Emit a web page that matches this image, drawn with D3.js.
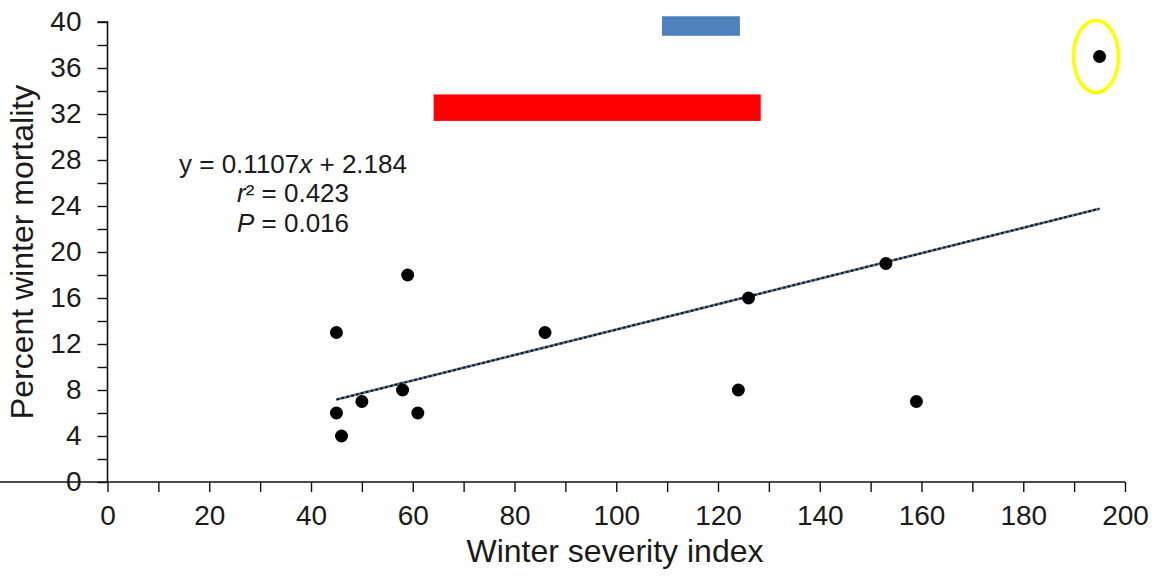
<!DOCTYPE html>
<html>
<head>
<meta charset="utf-8">
<script src="https://cdn.jsdelivr.net/npm/d3@7"></script>
<style>
  html, body { margin: 0; padding: 0; background: #fff; }
  svg { display: block; }
  text { font-family: "Liberation Sans", Arial, sans-serif; fill: #1a1a1a; }
</style>
</head>
<body>
<svg id="chart" width="1155" height="580"></svg>
<script>
// ---- data ----
const severity  = [45, 45, 46, 50, 58, 59, 61, 86, 124, 126, 153, 159, 195];
const mortality = [13, 6, 4, 7, 8, 18, 6, 13, 8, 16, 19, 7, 37];
const xTicks = [0, 20, 40, 60, 80, 100, 120, 140, 160, 180, 200];
const yTicks = [0, 4, 8, 12, 16, 20, 24, 28, 32, 36, 40];
const fitSlope = 0.1107;
const fitIntercept = 2.184;
const fitRange = [45, 195];
const blueBarX = [109, 124.3];
const blueBarY = [38.8, 40.5];
const redBarX = [64.1, 128.4];
const redBarY = [31.4, 33.7];
const highlightCenter = [194.3, 37];

// ---- layout ----
const svg = d3.select("#chart");
const x = d3.scaleLinear().domain([0, 200]).range([107.5, 1125]);
const y = d3.scaleLinear().domain([0, 40]).range([482, 22]);

// axes
const xAxis = d3.axisBottom(x)
  .tickValues(d3.range(0, 201, 10))
  .tickSize(10).tickPadding(13)
  .tickFormat(d => xTicks.includes(d) ? d : "");
const yAxis = d3.axisLeft(y)
  .tickValues(d3.range(0, 41, 2))
  .tickSize(10).tickPadding(16)
  .tickFormat(d => yTicks.includes(d) ? d : "");

const gx = svg.append("g").attr("transform", `translate(0,${y(0)})`).call(xAxis);
const gy = svg.append("g").attr("transform", `translate(${x(0)},0)`).call(yAxis);
[gx, gy].forEach(g => {
  g.select(".domain").attr("stroke", "#111").attr("stroke-width", 1.6);
  g.selectAll(".tick line").attr("stroke", "#111").attr("stroke-width", 1.4);
  g.selectAll(".tick text").style("font-size", "28px").attr("fill", "#1a1a1a")
    .style("font-family", "'Liberation Sans', Arial, sans-serif");
});
gy.select(".domain").attr("d", `M-10,${y(40)}H0V${y(0)}`);
gx.select(".domain").attr("d", `M0,0H${x(200)}`);

// axis titles
svg.append("text")
  .attr("x", 615).attr("y", 562)
  .attr("text-anchor", "middle")
  .style("font-size", "32px")
  .text("Winter severity index");
svg.append("text")
  .attr("transform", `translate(33,252) rotate(-90)`)
  .attr("text-anchor", "middle")
  .style("font-size", "32px")
  .text("Percent winter mortality");

// range bars
svg.append("rect")
  .attr("x", x(blueBarX[0])).attr("width", x(blueBarX[1]) - x(blueBarX[0]))
  .attr("y", y(blueBarY[1])).attr("height", y(blueBarY[0]) - y(blueBarY[1]))
  .attr("fill", "#4f81bd");
svg.append("rect")
  .attr("x", x(redBarX[0])).attr("width", x(redBarX[1]) - x(redBarX[0]))
  .attr("y", y(redBarY[1])).attr("height", y(redBarY[0]) - y(redBarY[1]))
  .attr("fill", "#ff0000");

// regression line
const fitData = fitRange.map(v => [v, fitSlope * v + fitIntercept]);
const line = d3.line().x(d => x(d[0])).y(d => y(d[1]));
svg.append("path").attr("d", line(fitData))
  .attr("fill", "none").attr("stroke", "#5b7fa8").attr("stroke-width", 2.6);
svg.append("path").attr("d", line(fitData))
  .attr("fill", "none").attr("stroke", "#1a1a1a").attr("stroke-width", 2)
  .attr("stroke-dasharray", "3,2");

// points
svg.append("g").selectAll("circle")
  .data(severity.map((s, i) => [s, mortality[i]]))
  .join("circle")
  .attr("cx", d => x(d[0])).attr("cy", d => y(d[1]))
  .attr("r", 6.5).attr("fill", "#000");

// highlight ellipse
svg.append("ellipse")
  .attr("cx", x(highlightCenter[0])).attr("cy", y(highlightCenter[1]))
  .attr("rx", 22.5).attr("ry", 36)
  .attr("fill", "none").attr("stroke", "#ffff00").attr("stroke-width", 3.5);

// equation annotation
const fs = "26px";
const l1 = svg.append("text").attr("text-anchor", "middle").style("font-size", fs)
  .attr("x", 293).attr("y", 173);
l1.append("tspan").text("y = 0.1107");
l1.append("tspan").style("font-style", "italic").text("x");
l1.append("tspan").text(" + 2.184");
const l2 = svg.append("text").attr("text-anchor", "middle").style("font-size", fs)
  .attr("x", 293).attr("y", 202);
l2.append("tspan").style("font-style", "italic").text("r");
l2.append("tspan").text("² = 0.423");
const l3 = svg.append("text").attr("text-anchor", "middle").style("font-size", fs)
  .attr("x", 293).attr("y", 232);
l3.append("tspan").style("font-style", "italic").text("P");
l3.append("tspan").text(" = 0.016");
</script>
</body>
</html>
